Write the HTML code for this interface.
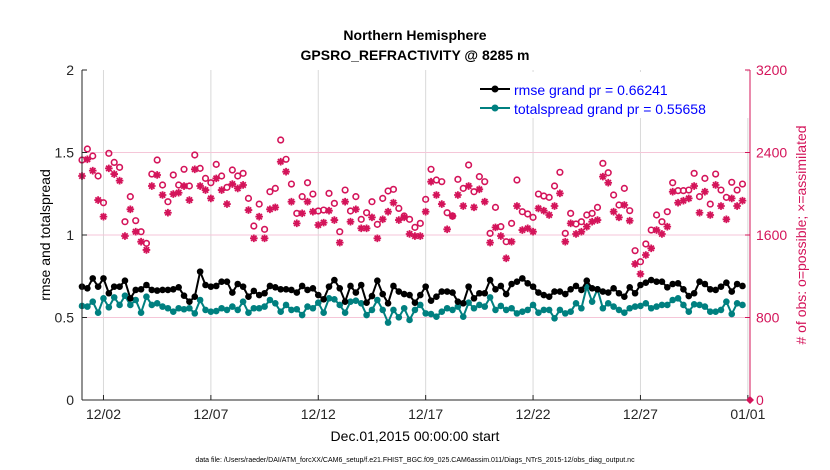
<!DOCTYPE html>
<html><head><meta charset="utf-8"><style>
body{margin:0;background:#fff;font-family:"Liberation Sans",sans-serif}
svg{display:block}
</style></head><body>
<svg id="c" width="830" height="470" xmlns="http://www.w3.org/2000/svg">
<rect width="830" height="470" fill="#fff"/>
<text x="415" y="40" font-size="14" font-weight="bold" text-anchor="middle">Northern Hemisphere</text>
<text x="415" y="60" font-size="14" font-weight="bold" text-anchor="middle">GPSRO_REFRACTIVITY @ 8285 m</text>
<g id="grid"></g><g id="marks"></g><g id="axes"></g>
<text transform="translate(50,235) rotate(-90)" font-size="14" text-anchor="middle">rmse and totalspread</text>
<text transform="translate(806,235) rotate(-90)" font-size="14" text-anchor="middle" fill="#d4145a"># of obs: o=possible; ×=assimilated</text>
<text x="415" y="441" font-size="14" text-anchor="middle">Dec.01,2015 00:00:00 start</text>
<text x="415" y="462" font-size="7" text-anchor="middle">data file: /Users/raeder/DAI/ATM_forcXX/CAM6_setup/f.e21.FHIST_BGC.f09_025.CAM6assim.011/Diags_NTrS_2015-12/obs_diag_output.nc</text>
<g>
<rect x="474" y="72" width="275" height="46" fill="#fff"/>
<line x1="480" y1="89" x2="510" y2="89" stroke="#000" stroke-width="2"/><circle cx="495" cy="89" r="3.5" fill="#000"/>
<text x="514" y="95" font-size="14" fill="#0000ff">rmse grand pr = 0.66241</text>
<line x1="480" y1="108" x2="510" y2="108" stroke="#008080" stroke-width="2"/><circle cx="495" cy="108" r="3.5" fill="#008080"/>
<text x="514" y="114" font-size="14" fill="#0000ff">totalspread grand pr = 0.55658</text>
</g>
</svg>
<script>
const rmse=[0.687,0.677,0.737,0.687,0.737,0.647,0.687,0.687,0.723,0.616,0.667,0.671,0.697,0.667,0.663,0.667,0.667,0.671,0.683,0.632,0.596,0.626,0.778,0.697,0.687,0.691,0.717,0.717,0.651,0.703,0.687,0.626,0.661,0.636,0.647,0.691,0.683,0.671,0.671,0.667,0.651,0.691,0.667,0.677,0.636,0.610,0.687,0.727,0.677,0.596,0.691,0.651,0.697,0.590,0.630,0.723,0.642,0.586,0.691,0.657,0.642,0.636,0.590,
0.636,0.687,0.602,0.626,0.657,0.657,0.651,0.596,0.586,0.687,0.616,0.647,0.647,0.727,0.671,0.691,0.642,0.703,0.717,0.737,0.707,0.687,0.651,0.636,0.626,0.657,0.657,0.642,0.671,0.691,0.667,0.723,0.677,0.671,0.657,0.651,0.677,0.647,0.626,0.683,0.647,0.697,0.711,0.727,0.717,0.717,0.683,0.703,0.707,0.671,0.630,0.647,0.717,0.703,0.671,0.667,0.687,0.711,0.657,0.703,0.691];
const spread=[0.570,0.566,0.596,0.529,0.616,0.562,0.622,0.576,0.632,0.576,0.606,0.529,0.626,0.576,0.586,0.566,0.556,0.535,0.556,0.550,0.556,0.525,0.606,0.546,0.535,0.539,0.556,0.546,0.566,0.546,0.596,0.529,0.556,0.556,0.566,0.606,0.586,0.535,0.576,0.546,0.550,0.515,0.566,0.556,0.590,0.529,0.616,0.610,0.576,0.529,0.596,0.602,0.586,0.515,0.546,0.606,0.546,0.469,0.546,0.501,0.556,0.485,0.546,
0.576,0.525,0.521,0.505,0.535,0.556,0.546,0.566,0.505,0.590,0.556,0.576,0.566,0.622,0.546,0.570,0.546,0.556,0.525,0.535,0.546,0.576,0.529,0.546,0.546,0.495,0.546,0.525,0.535,0.586,0.556,0.687,0.596,0.671,0.556,0.586,0.566,0.546,0.529,0.556,0.566,0.570,0.586,0.556,0.566,0.576,0.576,0.606,0.616,0.576,0.535,0.580,0.576,0.566,0.535,0.535,0.546,0.596,0.521,0.586,0.576];
const possible=[2327,2434,2366,2172,1913,2392,2304,2256,1729,1972,1739,1632,1519,2191,2327,2085,1923,2182,2085,2237,2075,2376,2246,2149,2107,2285,2172,2062,2230,2172,2198,1955,1687,1900,1655,2020,2052,2521,2334,2094,1810,1972,2107,1997,1833,1842,2004,1907,1632,2036,1833,1972,1752,1816,1923,1703,1955,2027,2043,1858,1784,1752,1674,
1713,1946,2237,2133,2117,1816,1784,2140,2052,2279,2020,2166,2117,1616,1868,1681,1535,1713,2133,1826,1804,1771,1997,1978,1965,2075,2208,1616,1810,1707,1729,1794,1810,1868,2295,2204,1988,1891,2052,1836,1448,1341,1513,1648,1794,1729,1826,2107,2030,2030,2036,2198,1972,2149,1900,2191,2036,1965,2111,2036,2094];
const assimilated=[2172,2334,2224,1939,1778,2246,2191,2127,1590,1849,1632,1535,1455,2075,2182,1988,1816,1997,2010,2075,1939,2237,2075,2036,1955,2149,2036,1900,2094,2052,2085,1842,1568,1778,1568,1849,1868,2311,2214,1923,1713,1810,1923,1826,1697,1720,1836,1745,1526,1923,1729,1849,1665,1665,1771,1568,1752,1826,1913,1745,1771,1610,1590,
1590,1826,2117,1988,1900,1655,1784,1988,1881,2075,1868,2043,1923,1526,1674,1590,1374,1535,1881,1648,1665,1632,1858,1836,1794,1881,2004,1535,1713,1610,1632,1681,1729,1745,2166,2107,1826,1771,1891,1739,1319,1222,1406,1471,1648,1610,1681,2020,1913,1933,1955,2075,1816,2020,1794,2085,1881,1752,1955,1881,1933];
const xTicks=[1,6,11,16,21,26,31];
const xTickLabels=["12/02","12/07","12/12","12/17","12/22","12/27","01/01"];
const yTicks=[0,0.5,1,1.5,2];
const y2Ticks=[0,800,1600,2400,3200];
const X0=82,X1=750,Y0=400,Y1=70,DAYMIN=0,DAYMAX=31.1,STEP=0.25;
const NS="http://www.w3.org/2000/svg";
const x=d=>X0+(d-DAYMIN)/(DAYMAX-DAYMIN)*(X1-X0);
const y=v=>Y0-v/2*(Y0-Y1);
const y2=v=>Y0-v/3200*(Y0-Y1);
function mk(p,t,a){const e=document.createElementNS(NS,t);for(const k in a)e.setAttribute(k,a[k]);p.appendChild(e);return e;}
const grid=document.getElementById('grid'),marks=document.getElementById('marks'),axes=document.getElementById('axes');
xTicks.forEach((d,i)=>{
 const g=mk(grid,'line',{x1:x(d),x2:x(d),y1:Y1,y2:Y0,stroke:'#d9d9d9','stroke-width':1});
 
 
 mk(axes,'line',{x1:x(d),x2:x(d),y1:Y0,y2:Y0-5,stroke:'#262626'});
 const t=mk(axes,'text',{x:x(d),y:Y0+19,'font-size':14,'text-anchor':'middle',fill:'#262626'});t.textContent=xTickLabels[i];
 
 
});
y2Ticks.forEach(v=>{
 if(v>0&&v<3200){const g=mk(grid,'line',{x1:X0,x2:X1,y1:y2(v),y2:y2(v),stroke:'#f5c6d8','stroke-width':1});
 
 }
 mk(axes,'line',{x1:X1,x2:X1-5,y1:y2(v),y2:y2(v),stroke:'#d4145a'});
 const t=mk(axes,'text',{x:X1+6,y:y2(v)+5,'font-size':14,fill:'#d4145a'});t.textContent=v;
 
 
});
yTicks.forEach(v=>{
 mk(axes,'line',{x1:X0,x2:X0+5,y1:y(v),y2:y(v),stroke:'#262626'});
 const t=mk(axes,'text',{x:X0-8,y:y(v)+5,'font-size':14,'text-anchor':'end',fill:'#262626'});t.textContent=v;
 
 
});
const la=mk(axes,'line',{x1:X0,x2:X0,y1:Y1,y2:Y0,stroke:'#262626'});


const ba=mk(axes,'line',{x1:X0,x2:X1,y1:Y0,y2:Y0,stroke:'#262626'});


const ra=mk(axes,'line',{x1:X1,x2:X1,y1:Y1,y2:Y0,stroke:'#d4145a'});


const zm=mk(axes,'path',{d:`M${X1-4},${Y0}L${X1},${Y0-4}L${X1+4},${Y0}L${X1},${Y0+4}Z`,fill:'#d4145a'});


// obs counts
possible.forEach((v,i)=>{
 const c=mk(marks,'circle',{cx:x(i*STEP),cy:y2(v),r:2.8,fill:'none',stroke:'#d4145a','stroke-width':1.6});
 
 
});
assimilated.forEach((v,i)=>{
 const cx=x(i*STEP),cy=y2(v),r=3.8;
 const d=`M${cx-r},${cy}H${cx+r}M${cx},${cy-r}V${cy+r}M${cx-2.7},${cy-2.7}L${cx+2.7},${cy+2.7}M${cx-2.7},${cy+2.7}L${cx+2.7},${cy-2.7}`;
 const p=mk(marks,'path',{d:d,stroke:'#d4145a','stroke-width':1.8});
 
 
});
function series(arr,col,name){
 const pts=arr.map((v,i)=>x(i*STEP)+','+y(v)).join(' ');
 const l=mk(marks,'polyline',{points:pts,fill:'none',stroke:col,'stroke-width':2});
 
 
 arr.forEach((v,i)=>{
  const c=mk(marks,'circle',{cx:x(i*STEP),cy:y(v),r:3.3,fill:col});
  
  
 });
}
series(spread,'#008080','totalspread');
series(rmse,'#000','rmse');
</script>
</body></html>
